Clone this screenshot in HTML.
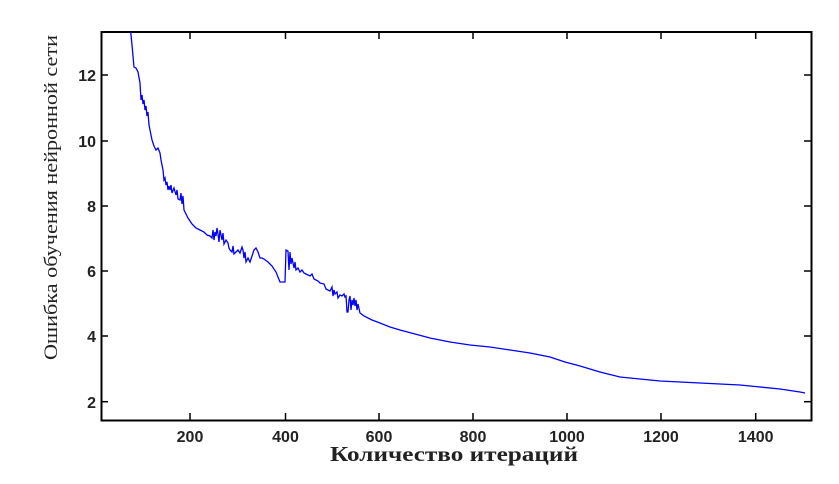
<!DOCTYPE html>
<html><head><meta charset="utf-8"><style>
body{margin:0;background:#fff;}
svg text{fill:#222;}
</style></head><body>
<svg width="839" height="479" xmlns="http://www.w3.org/2000/svg">
<rect width="839" height="479" fill="#fff"/>
<g stroke="#000" stroke-width="2" fill="none">
<rect x="101.5" y="32" width="710" height="388.5"/>
</g>
<g stroke="#000" stroke-width="1.5">
<line x1="190" y1="420" x2="190" y2="413"/><line x1="190" y1="32" x2="190" y2="39"/>
<line x1="285.5" y1="420" x2="285.5" y2="413"/><line x1="285.5" y1="32" x2="285.5" y2="39"/>
<line x1="379" y1="420" x2="379" y2="413"/><line x1="379" y1="32" x2="379" y2="39"/>
<line x1="473" y1="420" x2="473" y2="413"/><line x1="473" y1="32" x2="473" y2="39"/>
<line x1="567" y1="420" x2="567" y2="413"/><line x1="567" y1="32" x2="567" y2="39"/>
<line x1="661" y1="420" x2="661" y2="413"/><line x1="661" y1="32" x2="661" y2="39"/>
<line x1="755.7" y1="420" x2="755.7" y2="413"/><line x1="755.7" y1="32" x2="755.7" y2="39"/>
<line x1="101.5" y1="75" x2="108" y2="75"/><line x1="811" y1="75" x2="804" y2="75"/>
<line x1="101.5" y1="141" x2="108" y2="141"/><line x1="811" y1="141" x2="804" y2="141"/>
<line x1="101.5" y1="206" x2="108" y2="206"/><line x1="811" y1="206" x2="804" y2="206"/>
<line x1="101.5" y1="271" x2="108" y2="271"/><line x1="811" y1="271" x2="804" y2="271"/>
<line x1="101.5" y1="336" x2="108" y2="336"/><line x1="811" y1="336" x2="804" y2="336"/>
<line x1="101.5" y1="401.7" x2="108" y2="401.7"/><line x1="811" y1="401.7" x2="804" y2="401.7"/>
</g>
<g font-family="Liberation Sans, sans-serif" font-size="16" text-anchor="middle" font-weight="bold" fill="#333">
<text x="190" y="442">200</text><text x="285.5" y="442">400</text><text x="379" y="442">600</text>
<text x="473" y="442">800</text><text x="567" y="442">1000</text><text x="661" y="442">1200</text><text x="755.7" y="442">1400</text>
</g>
<g font-family="Liberation Sans, sans-serif" font-size="16" text-anchor="end" font-weight="bold">
<text x="96" y="81">12</text><text x="96" y="147">10</text><text x="96" y="212">8</text>
<text x="96" y="277">6</text><text x="96" y="342">4</text><text x="96" y="408">2</text>
</g>
<text x="330" y="461" textLength="248" lengthAdjust="spacingAndGlyphs" font-family="Liberation Serif, serif" font-size="21" font-weight="bold">Количество итераций</text>
<text transform="translate(57,360) rotate(-90)" textLength="325" lengthAdjust="spacingAndGlyphs" font-family="Liberation Serif, serif" font-size="19">Ошибка обучения нейронной сети</text>
<polyline fill="none" stroke="#0000ff" stroke-width="1.3" points="
130.7,32 132,45 134,67 136,68 138,72 140,83 141,100 142,95 143,104 144,100 145,110 146,106 147,116 148,112 149,125 152,140 154,146 156,150 158,148 160,153 161,160 162,165 163,170 164,180 165,178 166,185 167,182 168,190 169,186 170,190 171,185 172,193 174,188 176,195 177,190 178,199 180,200 181,193 182,204 183,196 184,210 188,218 192,224 196,228 200,230 204,232 207,235 210,236 212,238 213,230 214,240 215,232 216,236 217,228 218,234 219,242 220,230 222,240 223,233 224,244 226,240 228,243 229,248 230,250 232,252 233,246 234,254 236,252 238,250 240,253 242,247 243,250 244,258 245,252 246,262 248,258 250,262 252,256 254,250 256,248 258,252 260,258 262,258 264,259 268,262 272,266 276,272 280,282 283,282 285,282 286,250 288,251 289,270 290,252 291,264 292,258 294,268 295,262 296,270 298,268 300,272 302,270 304,273 306,274 310,276 312,274 314,279 318,281 320,283 324,284 326,289 328,290 330,291 332,287 333,296 334,290 335,294 337,292 338,298 340,295 342,296 344,294 345,297 346,296 347,312 348,312 349,300 350,296 351,310 352,300 353,305 354,298 355,306 356,300 357,310 358,304 360,313 364,316 372,320 380,323 390,327 400,330 415,334 430,338 450,342 470,345 490,347 510,350 530,353 550,357 565,362 580,366 600,372 620,377 640,379 660,381 680,382 700,383 720,384 740,385 760,387 780,389 800,392 805,393"/>
</svg>
</body></html>
